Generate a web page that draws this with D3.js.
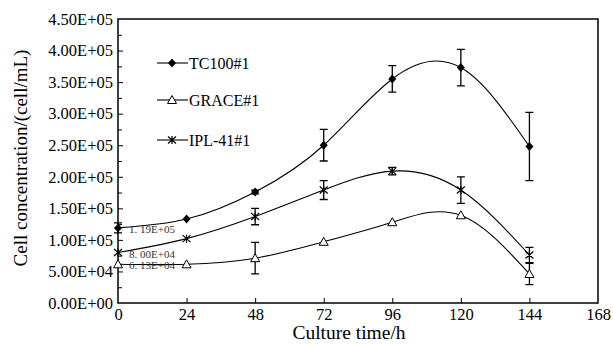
<!DOCTYPE html>
<html>
<head>
<meta charset="utf-8">
<script src="https://cdn.jsdelivr.net/npm/d3@7"></script>
<style>
  body { margin: 0; background: #fff; }
</style>
</head>
<body>
<div id="chart"></div>
<script>
// culture time (h)
var hours = [0, 24, 48, 72, 96, 120, 144];

// cell concentration (cell/mL) and error (+/-)
var tc100 = [119000, 133000, 176000, 250000, 355000, 373000, 248000];
var tc100Err = [8000, 0, 3000, 25000, 21000, 29000, 54000];
var grace = [61300, 61300, 71000, 97000, 128000, 139000, 46000];
var graceErr = [0, 0, 25000, 0, 0, 0, 17000];
var ipl41 = [80000, 102000, 137000, 179000, 209000, 179000, 76000];
var ipl41Err = [0, 0, 13000, 15000, 6000, 21000, 12000];

var seriesNames = ["TC100#1", "GRACE#1", "IPL-41#1"];
var startLabels = ["1. 19E+05", "6. 13E+04", "8. 00E+04"];
var xTicks = [0, 24, 48, 72, 96, 120, 144, 168];

var width = 613, height = 345;
var margin = {left: 118, right: 15, top: 19, bottom: 42};

var svg = d3.select("#chart").append("svg")
    .attr("width", width)
    .attr("height", height);

var xScale = d3.scaleLinear().domain([0, 168]).range([margin.left, width - margin.right]);
var yScale = d3.scaleLinear().domain([0, 450000]).range([height - margin.bottom, margin.top]);

// frame
svg.append("rect")
    .attr("x", margin.left).attr("y", margin.top)
    .attr("width", width - margin.right - margin.left)
    .attr("height", height - margin.bottom - margin.top)
    .attr("fill", "none").attr("stroke", "#000").attr("stroke-width", 1.5);

// minor y ticks
var yAxisMinor = d3.axisRight(yScale).tickValues(d3.range(25000, 450000, 50000)).tickSize(4).tickFormat("");
svg.append("g").attr("transform", "translate(" + margin.left + ",0)").call(yAxisMinor)
    .call(function (g) { g.select(".domain").remove(); });

// y axis
var yAxis = d3.axisLeft(yScale).tickValues(d3.range(0, 450001, 50000))
    .tickSize(0).tickPadding(5)
    .tickFormat(function (d) {
        var e = d === 0 ? 0 : Math.floor(Math.log10(d));
        var m = d / Math.pow(10, e);
        return m.toFixed(2) + "E+" + (e < 10 ? "0" + e : e);
    });
var gy = svg.append("g").attr("transform", "translate(" + margin.left + ",0)").call(yAxis);
gy.select(".domain").remove();
gy.selectAll("text").style("font-size", "16.5px");
svg.append("g").attr("transform", "translate(" + margin.left + ",0)")
    .call(d3.axisRight(yScale).tickValues(d3.range(50000, 450000, 50000)).tickSize(5).tickFormat(""))
    .call(function (g) { g.select(".domain").remove(); });

// x axis
var xAxis = d3.axisBottom(xScale).tickValues(xTicks).tickSize(0).tickPadding(5);
var gx = svg.append("g").attr("transform", "translate(0," + (height - margin.bottom) + ")").call(xAxis);
gx.select(".domain").remove();
gx.selectAll("text").style("font-size", "16.5px");
svg.append("g").attr("transform", "translate(0," + (height - margin.bottom) + ")")
    .call(d3.axisTop(xScale).tickValues(xTicks.slice(1, -1)).tickSize(5).tickFormat(""))
    .call(function (g) { g.select(".domain").remove(); });

// axis titles
svg.append("text")
    .attr("x", 349).attr("y", 339)
    .attr("text-anchor", "middle").style("font-size", "19.5px")
    .text("Culture time/h");
svg.append("text")
    .attr("transform", "translate(27,158) rotate(-90)")
    .attr("text-anchor", "middle").style("font-size", "19px")
    .text("Cell concentration/(cell/mL)");

var allSeries = [
    {name: seriesNames[0], values: tc100, err: tc100Err, marker: "diamond"},
    {name: seriesNames[1], values: grace, err: graceErr, marker: "triangle"},
    {name: seriesNames[2], values: ipl41, err: ipl41Err, marker: "star"}
];

var line = d3.line()
    .x(function (d) { return xScale(d[0]); })
    .y(function (d) { return yScale(d[1]); })
    .curve(d3.curveNatural);

function drawMarker(g, type, x, y) {
    if (type === "diamond") {
        g.append("path")
            .attr("d", "M" + x + "," + (y - 4.5) + "L" + (x + 4) + "," + y + "L" + x + "," + (y + 4.5) + "L" + (x - 4) + "," + y + "Z")
            .attr("fill", "#000");
    } else if (type === "triangle") {
        g.append("path")
            .attr("d", "M" + x + "," + (y - 4.5) + "L" + (x + 4.5) + "," + (y + 3.5) + "L" + (x - 4.5) + "," + (y + 3.5) + "Z")
            .attr("fill", "#fff").attr("stroke", "#000").attr("stroke-width", 1);
    } else {
        g.append("path")
            .attr("d", "M" + (x - 4) + "," + (y - 3.5) + "L" + (x + 4) + "," + (y + 3.5) +
                "M" + (x - 4) + "," + (y + 3.5) + "L" + (x + 4) + "," + (y - 3.5) +
                "M" + x + "," + (y - 4) + "L" + x + "," + (y + 4))
            .attr("stroke", "#000").attr("stroke-width", 1.2);
    }
}

var plot = svg.append("g");
allSeries.forEach(function (s) {
    var pts = hours.map(function (h, i) { return [h, s.values[i]]; });
    plot.append("path")
        .datum(pts)
        .attr("d", line)
        .attr("fill", "none").attr("stroke", "#000").attr("stroke-width", 1.1);

    // error bars
    hours.forEach(function (h, i) {
        if (!s.err[i]) return;
        var x = xScale(h), y0 = yScale(s.values[i] - s.err[i]), y1 = yScale(s.values[i] + s.err[i]);
        plot.append("path")
            .attr("d", "M" + x + "," + y0 + "V" + y1 + "M" + (x - 4) + "," + y0 + "H" + (x + 4) + "M" + (x - 4) + "," + y1 + "H" + (x + 4))
            .attr("stroke", "#000").attr("stroke-width", 1.3).attr("fill", "none");
    });

    hours.forEach(function (h, i) {
        drawMarker(plot, s.marker, xScale(h), yScale(s.values[i]));
    });
});

// start-point value labels
var startValues = [tc100[0], grace[0], ipl41[0]];
var labelOffsets = [5.5, 5, 5.5];
startValues.forEach(function (v, i) {
    svg.append("text")
        .attr("x", xScale(0) + 11)
        .attr("y", yScale(v) + labelOffsets[i])
        .style("font-size", "11px")
        .style("fill", "#333")
        .text(startLabels[i]);
});

// legend
var legendY = [63, 100, 140];
allSeries.forEach(function (s, i) {
    var g = svg.append("g");
    g.append("line")
        .attr("x1", 157).attr("x2", 188)
        .attr("y1", legendY[i]).attr("y2", legendY[i])
        .attr("stroke", "#000").attr("stroke-width", 1.1);
    drawMarker(g, s.marker, 172, legendY[i]);
    g.append("text")
        .attr("x", 189).attr("y", legendY[i] + 5.5)
        .style("font-size", "16px")
        .text(s.name);
});

// serif everywhere, like the original figure
svg.selectAll("text").style("font-family", "'Liberation Serif'");
</script>
</body>
</html>
